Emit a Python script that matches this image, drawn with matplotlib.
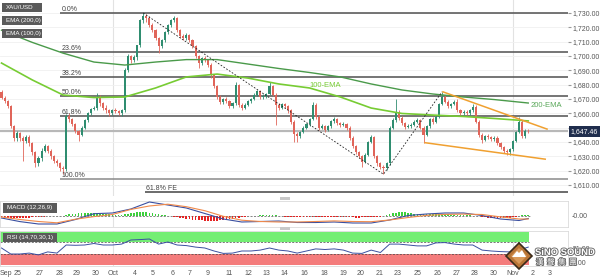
import matplotlib
matplotlib.use('Agg')
import matplotlib.pyplot as plt
import matplotlib.patheffects as pe
from matplotlib.patches import Rectangle, Polygon
from matplotlib.transforms import blended_transform_factory

plt.rcParams['font.family'] = ['Liberation Sans', 'DejaVu Sans', 'Noto Sans CJK TC']

# ---- 4H candles, XAU/USD (open of each bar = previous close) ----
first_open = 1675.0
closes = [1671, 1668.5, 1665, 1651, 1643, 1646, 1643, 1640.5, 1643.5, 1639, 1633, 1625,
          1629, 1634, 1637, 1634, 1630, 1627, 1625, 1622, 1621, 1658, 1656, 1652.5,
          1647.5, 1645, 1650, 1655, 1660, 1663, 1664, 1671, 1667, 1663.5, 1662, 1660,
          1662, 1661.5, 1660, 1662, 1690, 1700, 1697, 1699, 1707.5, 1725, 1728, 1726.5,
          1721.5, 1718, 1712.5, 1707, 1711, 1716.5, 1721.5, 1725, 1726.5, 1718, 1714, 1712.5,
          1714.5, 1711, 1707, 1700, 1695, 1698.5, 1697, 1694, 1686.5, 1679, 1671.5, 1668,
          1670, 1668.5, 1665, 1667, 1679.5, 1666, 1664, 1666, 1668.5, 1670, 1673, 1675.5,
          1671.5, 1672, 1673.5, 1679, 1673, 1665.8, 1664, 1666.5, 1665, 1662, 1654, 1645.5,
          1644, 1647, 1650, 1652.5, 1656, 1666, 1657.5, 1650, 1651, 1648.5, 1651, 1654.5,
          1656, 1653, 1652, 1652.5, 1649.8, 1643, 1637, 1633, 1630, 1626, 1631, 1640,
          1643.5, 1630, 1625, 1622.5, 1622, 1625, 1650, 1655, 1661, 1656.8, 1653, 1650.5,
          1651, 1652, 1654, 1655, 1650, 1645, 1651, 1656, 1654, 1657.5, 1666.5, 1671.5,
          1668, 1665, 1666.5, 1668, 1662, 1660, 1661, 1660, 1662, 1664.5, 1654, 1645,
          1641.5, 1644, 1643.5, 1642, 1642.8, 1639, 1636.5, 1633.7, 1633, 1635, 1640.8, 1647,
          1654, 1644.2, 1647.8, 1647.46]
highs = [1676, 1672, 1669.5, 1666, 1652, 1648, 1647, 1644, 1645, 1645, 1640, 1634,
         1630, 1636, 1638.5, 1638, 1635, 1631, 1628, 1626, 1623, 1659.5, 1660, 1657,
         1653, 1648.5, 1651, 1656, 1661, 1664, 1665, 1674, 1673, 1668, 1666, 1663,
         1663, 1663.5, 1662.5, 1663, 1691.5, 1701.5, 1701, 1700.5, 1708, 1726, 1730, 1729.5,
         1728, 1723, 1719, 1713.5, 1712, 1717.5, 1722.5, 1726, 1728, 1727, 1719, 1715.5,
         1716, 1715.5, 1712, 1708, 1701, 1699.5, 1700, 1698, 1695, 1687.5, 1680, 1672.5,
         1671, 1671.5, 1669.5, 1668, 1682, 1680.5, 1667, 1667, 1669.5, 1671, 1674, 1676.5,
         1676.5, 1673.5, 1674.5, 1682, 1680, 1674, 1667, 1667.5, 1667.5, 1666, 1663, 1655,
         1647, 1648, 1651, 1653.5, 1657, 1668, 1667, 1658.5, 1652.5, 1652, 1652, 1655.5,
         1657.5, 1657, 1654, 1654, 1653.5, 1651, 1644, 1638, 1634, 1631, 1632, 1641,
         1645, 1644.5, 1631, 1626, 1624, 1626, 1651, 1656.5, 1670, 1662, 1658, 1654,
         1652.5, 1653.5, 1655, 1656.5, 1656, 1651, 1652, 1657, 1657.5, 1658.5, 1667.5, 1675,
         1672.5, 1669, 1667.5, 1669, 1670, 1663, 1662.5, 1662, 1663, 1666.5, 1665.5, 1655,
         1646, 1645, 1645.5, 1644.5, 1644, 1644, 1640, 1637.5, 1635, 1636, 1641.5, 1648,
         1657.5, 1655, 1649, 1649]
lows = [1670, 1667, 1663.5, 1650, 1641, 1641, 1640.5, 1627, 1639, 1637, 1631, 1622.5,
        1623, 1627, 1633, 1632, 1628, 1625, 1623, 1620, 1618, 1620, 1654, 1651,
        1646, 1641, 1644, 1649, 1654, 1659, 1662, 1662, 1665, 1662, 1660, 1658,
        1659, 1660, 1658.5, 1658, 1661, 1689, 1695, 1696, 1697, 1706, 1723, 1724,
        1720, 1716.5, 1711, 1702, 1705.5, 1710, 1715.5, 1720.5, 1724, 1717, 1712.5, 1711,
        1711, 1709.5, 1705.5, 1698.5, 1691.5, 1694, 1695.5, 1692.5, 1685, 1677.5, 1670, 1666.5,
        1666.5, 1667, 1663.5, 1663.5, 1666, 1664.5, 1662, 1663, 1665, 1667.5, 1669, 1672,
        1670, 1670, 1671, 1672.5, 1672, 1652, 1662.5, 1663, 1663.5, 1660.5, 1652.5, 1640,
        1640, 1642.5, 1646, 1649, 1651.5, 1655, 1656, 1648.5, 1649, 1647, 1647.5, 1650,
        1653.5, 1652, 1650.5, 1651, 1648.5, 1641.5, 1635.5, 1631.5, 1628.5, 1622.5, 1625, 1630,
        1639, 1629, 1623.5, 1621, 1617.5, 1620.5, 1624, 1649, 1654, 1655.5, 1652, 1649,
        1649.5, 1650, 1651, 1653, 1649, 1639, 1644, 1650, 1652.5, 1653, 1656.5, 1665.5,
        1667, 1663.5, 1664, 1665.5, 1661, 1658.5, 1659, 1658.5, 1659, 1661, 1653, 1643.5,
        1639, 1640.5, 1642, 1640.5, 1641, 1638, 1635, 1632.5, 1631, 1631, 1634, 1640,
        1646, 1643, 1643, 1646.5]

# ---- moving averages (sampled along the bars) ----
ema_idx = [0, 10, 20, 30, 40, 50, 60, 70, 80, 90, 100, 110, 120, 130, 140, 150, 160, 171]
ema200 = [1718, 1709.5, 1702, 1695.8, 1693.7, 1695.8, 1697.5, 1697.5, 1694.4, 1691.3,
          1688.5, 1685.4, 1680.5, 1676.3, 1673.5, 1671.4, 1669.6, 1667.2]
ema100 = [1695.1, 1683.3, 1672.8, 1671, 1671.4, 1677.7, 1685.4, 1687.4, 1684.6, 1680.5,
          1677.7, 1671.4, 1663.7, 1659.9, 1658.8, 1657.8, 1656.4, 1654.7]

# ---- MACD (12,26,9) ----
macd_idx = [0, 6, 12, 18, 24, 30, 36, 42, 48, 54, 60, 66, 72, 78, 84, 90, 96, 102, 108,
            114, 120, 126, 132, 138, 144, 150, 156, 162, 168, 171]
macd_line = [-2.3, -5.9, -8.3, -8.3, -3.8, 2.0, 2.7, 6.7, 13.7, 10.7, 7.7, 2.2, -3.3, -6.3,
             -5.8, -5.3, -6.8, -6.8, -6.3, -7.3, -7.3, -4.3, 0.2, 1.7, 2.7, 2.7, 0.2, -3.3,
             -4.8, -2.8]
signal_line = [-1.3, -3.8, -5.8, -7.1, -3.5, -0.9, 1.2, 6.3, 9.7, 11.5, 9.0, 5.0, -0.6, -4.5,
               -5.8, -6.3, -6.3, -5.8, -5.2, -5.8, -6.0, -4.3, -1.8, 0.3, 1.3, 1.6, 1.2, -1.2,
               -3.3, -3.3]
macd_hist = [-1.5, -1.8, -2, -2, -2.2, -2.2, -2, -2, -1.8, -1.8, -1.5, -1.5, -1.2, -1.0,
             -0.8, -0.6, -0.5, -0.4, -0.3, -0.3, -0.2,
             1.0, 1.5, 2.0, 2.2, 2.5, 2.8, 3.0, 3.0, 3.0, 2.8, 2.6, 2.4, 2.2, 2.0, 1.6, 1.2,
             0.8, 0.6, 0.5,
             1.5, 2.2, 2.8, 3.2, 3.4, 3.5, 3.5, 3.3, 3.0, 2.6, 2.0, 1.4,
             0.8, 0.3, -0.2, -0.6,
             -1.0, -1.5, -2.0, -2.5, -3.0, -3.5, -3.8, -4.0, -4.3, -4.6, -4.8, -5.0, -5.0,
             -5.0, -4.8, -4.5, -4.2, -3.8, -3.4, -3.0, -2.5, -2.0, -1.5, -1.0, -0.6,
             -0.3, 0.0, 0.2, 0.4, 0.6,
             0.8, 0.8, 0.6, 0.4,
             0.0, -0.4, -0.8,
             -1.0, -1.2, -1.4, -1.5, -1.6, -1.6, -1.5, -1.4, -1.3, -1.2, -1.2, -1.0, -1.0,
             -1.0, -1.1, -1.2, -1.3, -1.4, -1.5, -1.6, -1.6,
             -1.7, -1.8, -1.8, -1.7, -1.5, -1.2, -1.0, -1.0, -0.9, -0.8, -0.6,
             0.5, 1.5, 2.5, 3.2, 3.8, 4.0, 3.6, 3.0, 2.4,
             2.0, 1.8, 1.6, 1.5, 1.4, 1.4, 1.5, 1.6, 1.6, 1.5, 1.4, 1.3, 1.2, 1.1, 1.0, 0.9,
             0.8, 0.6, 0.4,
             0.2, -0.2,
             -0.6, -1.0, -1.4, -1.8, -2.0, -2.2, -2.3, -2.3, -2.2, -2.0, -1.8, -1.5, -1.0, -0.5,
             0.3, 0.8, 1.0]

# ---- RSI (14) every third bar ----
rsi_idx = list(range(0, 172, 3))
rsi_vals = [50, 30, 30, 33, 27, 37, 33, 60, 59, 60, 65, 60, 60, 63, 76.7, 78, 80, 63, 70, 60,
            58, 53, 50, 40, 32, 33, 40, 40, 43, 50, 43, 40, 33, 40, 47, 45, 47, 43, 33, 32,
            43, 35, 63, 63, 60, 57, 57, 67, 68, 63, 60, 60, 43, 40, 38, 37, 43, 53]

# ---- drawing tools ----
fib_high, fib_low = 1730.0, 1614.0
fib_ratios = [0.0, 0.236, 0.382, 0.5, 0.618, 1.0]
fib_labels = ['0.0%', '23.6%', '38.2%', '50.0%', '61.8%', '100.0%']
fib_start = 19
fe_level, fe_start = 1605.0, 46.5
last_price = 1647.46
zigzag_idx = [46, 124, 143]
chan_upper_x, chan_upper_y = [143.3, 177.1], [1675.0, 1649.0]
chan_lower_x, chan_lower_y = [137.5, 176.5], [1639.5, 1628.0]

date_pos = [1.3, 5.2, 12.5, 18.7, 24.5, 30.4, 36.2, 43.3, 49.2, 55.4, 61.2, 67.0, 73.9, 80.0,
            85.9, 91.7, 98.2, 104.7, 110.9, 116.7, 122.6, 128.7, 135.2, 141.4, 147.6, 153.4,
            159.6, 166.1, 172.3, 178.1]
date_lbl = ['Sep', '25', '27', '28', '29', '30', 'Oct', '4', '5', '6', '7', '9', '11', '12',
            '13', '14', '16', '18', '19', '20', '21', '23', '25', '26', '27', '28', '30', 'Nov',
            '2', '3']
month_pos = [36.2, 166.1]

W, H = 604, 278
def box(x0, y0, x1, y1):
    return [x0 / W, 1 - y1 / H, (x1 - x0) / W, (y1 - y0) / H]

fig = plt.figure(figsize=(W / 100, H / 100), dpi=100)
ax = fig.add_axes(box(0, 0, 568, 196))
axm = fig.add_axes(box(0, 200.5, 568, 226.5))
axr = fig.add_axes(box(0, 230.5, 568, 266))
xlim = (-0.49, 183.9)
for a in (ax, axm, axr):
    a.set_xlim(*xlim)
    for m in month_pos:
        a.axvline(m, color='#e2e2e2', lw=0.8, zorder=0)

# candles
n = len(closes)
idx = list(range(n))
opens = [first_open] + closes[:-1]
cols = ['#2f8d70' if c >= o else '#e0655a' for o, c in zip(opens, closes)]
ax.vlines(idx, lows, highs, colors=cols, lw=0.6, zorder=3)
ax.bar(idx, [max(abs(c - o), 0.4) for o, c in zip(opens, closes)],
       bottom=[min(o, c) for o, c in zip(opens, closes)], width=0.68, color=cols, lw=0, zorder=4)

ax.set_ylim(1602.3, 1739.1)
ax.set_yticks(range(1610, 1731, 10))
ax.set_yticklabels([f'{v:,.2f}' for v in range(1610, 1731, 10)])
ax.yaxis.tick_right()
ax.tick_params(axis='y', length=2, pad=1.5, labelsize=5, color='#999', labelcolor='#555')
ax.tick_params(axis='x', bottom=False, labelbottom=False)
ax.grid(axis='y', color='#f0f0f0', lw=0.6, zorder=0)
for s in ax.spines.values():
    s.set_visible(False)

# fibonacci
for r, lab in zip(fib_ratios, fib_labels):
    lev = fib_high - r * (fib_high - fib_low)
    c = '#8a8a8a' if r == 1.0 else '#505050'
    ax.hlines(lev, fib_start, xlim[1], color=c, lw=1.1, zorder=2)
    ax.text(fib_start + 0.4, lev + 1.3, lab, fontsize=5, color='#444', va='baseline')
ax.hlines(fe_level, fe_start, xlim[1], color='#444', lw=1.1, zorder=2)
ax.text(fe_start + 0.4, fe_level + 1.3, '61.8% FE', fontsize=5, color='#444', va='baseline')

ax.axhline(last_price, color='#b8b8b8', lw=1.6, zorder=1)
tr = blended_transform_factory(ax.transAxes, ax.transData)
ax.text(1.005, last_price, '1,647.46', transform=tr, fontsize=5, color='white', va='center',
        ha='left', bbox=dict(boxstyle='square,pad=0.3', fc='#1f2d4d', ec='none'), zorder=10)

# emas
ax.plot(ema_idx, ema200, color='#4a9a4a', lw=1.0, zorder=5)
ax.plot(ema_idx, ema100, color='#77cc33', lw=1.2, zorder=5)
ax.text(100, 1679.5, '100-EMA', fontsize=5.5, color='#77cc33', va='center')
ax.text(171.8, 1665.5, '200-EMA', fontsize=5.5, color='#5aa85a', va='center')

# zigzag and channel
zz_y = [highs[zigzag_idx[0]], lows[zigzag_idx[1]], highs[zigzag_idx[2]]]
ax.plot(zigzag_idx, zz_y, color='#222', lw=0.6, ls=(0, (2, 2)), zorder=6)
ax.plot(chan_upper_x, chan_upper_y, color='#f0a030', lw=1.1, zorder=6)
ax.plot(chan_lower_x, chan_lower_y, color='#f0a030', lw=1.1, zorder=6)

# MACD panel
axm.set_ylim(-10.8, 15.2)
axm.bar(idx, macd_hist, width=0.55, color=['#3ccf3c' if v >= 0 else '#e42222' for v in macd_hist],
        lw=0, zorder=3)
axm.hlines(0, xlim[0], 171.5, color='#555', lw=0.5, ls=(0, (3, 2)), zorder=2)
axm.plot(macd_idx, macd_line, color='#3a4fa0', lw=0.8, zorder=4)
axm.plot(macd_idx, signal_line, color='#f08a4b', lw=0.8, zorder=4)
axm.yaxis.tick_right()
axm.set_yticks([0])
axm.set_yticklabels(['-0.00'])
axm.tick_params(axis='y', length=0, pad=2.5, labelsize=5, labelcolor='#555')
axm.tick_params(axis='x', bottom=False, labelbottom=False)
for s in axm.spines.values():
    s.set_color('#dadada')
    s.set_linewidth(0.6)

# RSI panel
axr.set_ylim(-10, 108.3)
axr.fill_between([xlim[0], 171.3], 70, 104.3, color='#74ee74', lw=0, zorder=1)
axr.fill_between([xlim[0], 171.3], -6.7, 30, color='#f47c7c', lw=0, zorder=1)
axr.hlines([70, 30], xlim[0], 171.3, color='#444', lw=0.5, ls=(0, (3, 2)), zorder=2)
axr.plot(rsi_idx, rsi_vals, color='#3a4fa0', lw=0.7, zorder=4)
axr.yaxis.tick_right()
axr.set_yticks([0, 47])
axr.set_yticklabels(['0.00', '51.00'])
axr.tick_params(axis='y', length=2, pad=1.5, labelsize=5, color='#999', labelcolor='#555')
axr.set_xticks(date_pos)
axr.set_xticklabels(date_lbl)
axr.tick_params(axis='x', length=0, pad=3, labelsize=5, labelcolor='#555')
for s in axr.spines.values():
    s.set_color('#dadada')
    s.set_linewidth(0.6)

# label boxes
def label_box(x0, y0, x1, y1, txt):
    fig.add_artist(Rectangle((x0 / W, 1 - y1 / H), (x1 - x0) / W, (y1 - y0) / H,
                             transform=fig.transFigure, fc='#5a5a5a', ec='none', zorder=20))
    fig.text((x0 + 4) / W, 1 - (y0 + y1) / 2 / H, txt, fontsize=4.5, color='white',
             va='center', ha='left', zorder=21)

label_box(2, 3, 42, 12, 'XAU/USD')
label_box(2, 16, 42, 25, 'EMA (200,0)')
label_box(2, 29, 42, 38, 'EMA (100,0)')
label_box(3, 203, 57, 213, 'MACD (12,26,9)')
label_box(3, 233, 57, 242, 'RSI (14,70,30,1)')

# pane resize handles
for yy in (197, 227):
    fig.add_artist(Rectangle((280 / W, 1 - (yy + 2.5) / H), 10 / W, 2.5 / H,
                             transform=fig.transFigure, fc='#c8c8c8', ec='none'))

# watermark
def P(x, y):
    return (x / W, 1 - y / H)
fig.add_artist(Polygon([P(519, 243), P(532, 256), P(519, 269), P(506, 256)],
                       transform=fig.transFigure, fc='#b97536', ec='#3a2a1a', lw=1.2, zorder=30))
fig.add_artist(Polygon([P(519, 248), P(527, 256), P(519, 264), P(511, 256)],
                       transform=fig.transFigure, fc='#d99a5a', ec='none', zorder=31))
fig.add_artist(Polygon([P(512, 257), P(517, 251), P(519, 253), P(522, 250), P(526, 257)],
                       transform=fig.transFigure, fc='white', ec='none', zorder=32))
stroke = [pe.withStroke(linewidth=1.3, foreground='#6a6a6a')]
fig.text(535 / W, 1 - 252.5 / H, 'SiNO SOUND', fontsize=6.8, weight='bold', color='white',
         va='center', ha='left', path_effects=stroke, zorder=33)
fig.text(536 / W, 1 - 262.5 / H, '漢  聲  集  團', fontsize=5.5, color='white',
         family=['Noto Sans CJK TC', 'DejaVu Sans'], va='center', ha='left',
         path_effects=stroke, zorder=33)

fig.savefig('out.png', dpi=100, facecolor='white')
